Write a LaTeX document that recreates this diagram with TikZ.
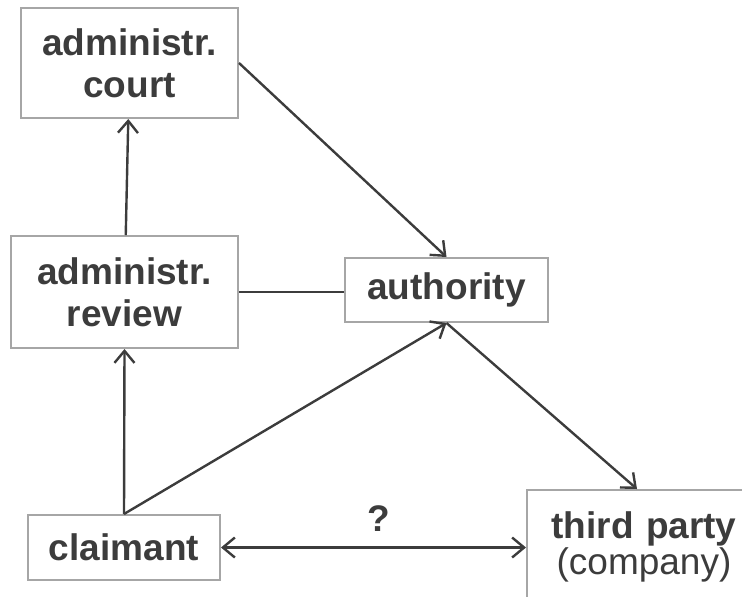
\documentclass[tikz,border=0pt]{standalone}
\usepackage{fontspec}
\setmainfont{Liberation Sans}
\usetikzlibrary{arrows.meta}
\definecolor{boxgray}{HTML}{A6A6A6}
\definecolor{textgray}{HTML}{3C3C3C}

\begin{document}
\begin{tikzpicture}[x=0.5pt, y=-0.5pt,
    box/.style={draw=boxgray, line width=1pt, fill=white, text=textgray, inner sep=0pt,
                align=center, font=\fontsize{18.5}{21}\selectfont\bfseries},
    link/.style={draw=textgray, line width=1.2pt},
    >={Straight Barb[length=6pt,width=10pt]}]
  \useasboundingbox (0,0) rectangle (742,596);

  \node[box, minimum width=108.5pt, minimum height=55pt] (court) at (129.5,63) {administr.\\court};
  \node[box, minimum width=113.5pt, minimum height=56pt] (review) at (124.5,292) {administr.\\review};
  \node[box, minimum width=101.5pt, minimum height=32pt] (authority) at (446.5,290) {authority};
  \node[box, minimum width=96pt, minimum height=32.5pt] (claimant) at (124,547.5) {claimant};
  % box runs past the right edge of the page
  \node[box, minimum width=117pt, minimum height=57pt, font=\fontsize{18.5}{17}\selectfont,
        text width=110pt] (third) at (644,547)
    {\textbf{third party}\\(company)};

  \draw[link,->] (review) -- (court);
  \draw[link,->] (court.east) -- (authority.north);
  \draw[link] (review.east) -- (review.east -| authority.west);
  \draw[link,->] (claimant.north) -- (review.south);
  \draw[link,->] (claimant.north) -- (authority.south);
  \draw[link,->] (authority.south) -- ([xshift=-3.5pt]third.north);
  \draw[link,<->] (claimant.east) -- (claimant.east -| third.west)
    node[midway, xshift=2.5pt, yshift=14.5pt, text=textgray,
         font=\fontsize{18.5}{21}\selectfont\bfseries] (ask) {?};
\end{tikzpicture}
\end{document}
